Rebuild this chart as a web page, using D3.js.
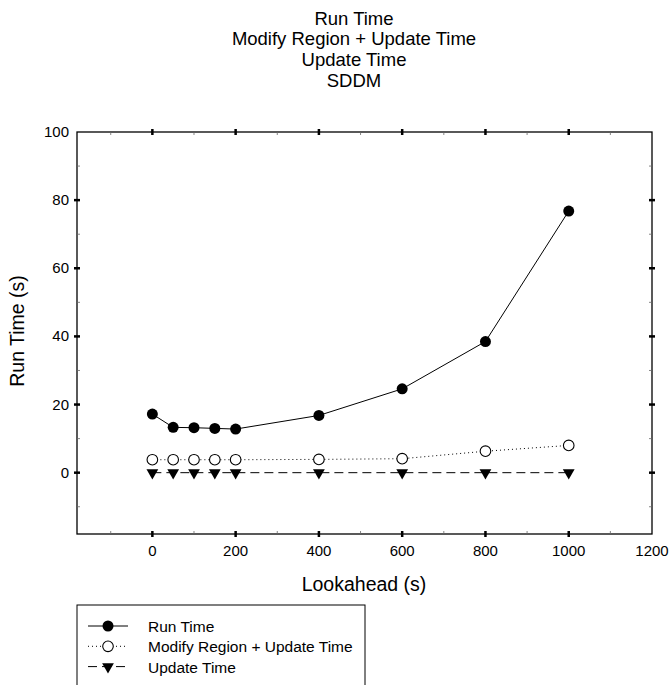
<!DOCTYPE html>
<html><head><meta charset="utf-8">
<script src="https://cdn.jsdelivr.net/npm/d3@7"></script>
<style>body{margin:0;background:#fff;}svg{display:block;font-family:"Liberation Sans",Arial,sans-serif;}</style>
</head><body>
<script>
const lookahead = [0, 50, 100, 150, 200, 400, 600, 800, 1000];
const runTime = [17.2, 13.3, 13.2, 13.0, 12.8, 16.8, 24.6, 38.5, 76.8];
const modifyRegion = [3.8, 3.8, 3.8, 3.8, 3.8, 3.9, 4.1, 6.3, 8.0];
const updateTime = [0, 0, 0, 0, 0, 0, 0, 0, 0];
const xTicks = [0, 200, 400, 600, 800, 1000, 1200];
const yTicks = [0, 20, 40, 60, 80, 100];
const titleLines = ["Run Time", "Modify Region + Update Time", "Update Time", "SDDM"];
const seriesNames = ["Run Time", "Modify Region + Update Time", "Update Time"];

(function () {
const W = 669, H = 685;
const svg = d3.select("body").append("svg").attr("width", W).attr("height", H);
const pl = 77, pr = 652, pt = 132, pb = 534;
const x = d3.scaleLinear().domain([-181, 1200]).range([pl, pr]);
const y = d3.scaleLinear().domain([-18, 100]).range([pb, pt]);

svg.append("g").selectAll("text").data(titleLines).join("text")
  .attr("x", 354).attr("y", (d, i) => 24.5 + i * 20.8)
  .attr("text-anchor", "middle").attr("font-size", 18.5).text(d => d);

svg.append("rect").attr("x", pl).attr("y", pt).attr("width", pr - pl).attr("height", pb - pt)
  .attr("fill", "none").attr("stroke", "#000").attr("stroke-width", 1.3);

const xMinor = d3.range(-100, 1200, 200);
const yMinor = d3.range(-10, 100, 20);

const tg = svg.append("g").attr("stroke", "#000");
[pb, pt].forEach(yy => {
  tg.selectAll(null).data(xTicks.filter(v => v < 1200)).join("line")
    .attr("x1", d => x(d)).attr("x2", d => x(d)).attr("y1", yy - 3).attr("y2", yy + 3).attr("stroke-width", 2.5);
  tg.selectAll(null).data(xMinor).join("line")
    .attr("x1", d => x(d)).attr("x2", d => x(d)).attr("y1", yy === pb ? yy - 3 : yy).attr("y2", yy === pb ? yy : yy + 3)
    .attr("stroke-width", 0.8).attr("stroke", "#666");
});
[pl, pr].forEach(xx => {
  tg.selectAll(null).data(yTicks.filter(v => v < 100)).join("line")
    .attr("y1", d => y(d)).attr("y2", d => y(d)).attr("x1", xx - 3).attr("x2", xx + 3).attr("stroke-width", 2.5);
  tg.selectAll(null).data(yMinor).join("line")
    .attr("y1", d => y(d)).attr("y2", d => y(d)).attr("x1", xx === pl ? xx : xx - 3).attr("x2", xx === pl ? xx + 3 : xx)
    .attr("stroke-width", 0.8).attr("stroke", "#666");
});

svg.append("g").selectAll("text").data(xTicks).join("text")
  .attr("x", d => x(d)).attr("y", 556).attr("text-anchor", "middle").attr("font-size", 15).text(d => d);
svg.append("g").selectAll("text").data(yTicks).join("text")
  .attr("x", 69).attr("y", d => y(d) + 5).attr("text-anchor", "end").attr("font-size", 15).text(d => d);

svg.append("text").attr("x", 364).attr("y", 591).attr("text-anchor", "middle").attr("font-size", 19.5).text("Lookahead (s)");
svg.append("text").attr("transform", "translate(24,331) rotate(-90)").attr("text-anchor", "middle").attr("font-size", 19.5).text("Run Time (s)");

const line = d3.line().x(d => x(d[0])).y(d => y(d[1]));
const zip = arr => lookahead.map((v, i) => [v, arr[i]]);

const styles = [
  {data: runTime, dash: null, marker: "fill"},
  {data: modifyRegion, dash: "1,3", marker: "open"},
  {data: updateTime, dash: "9,5", marker: "tri"}
];
const tri = d3.symbol().type(d3.symbolTriangle).size(60);
function drawMarker(g, type, cx, cy) {
  if (type === "fill") g.append("circle").attr("cx", cx).attr("cy", cy).attr("r", 5.5).attr("fill", "#000");
  else if (type === "open") g.append("circle").attr("cx", cx).attr("cy", cy).attr("r", 5.3).attr("fill", "#fff").attr("stroke", "#000").attr("stroke-width", 1.1);
  else g.append("path").attr("d", tri()).attr("transform", `translate(${cx},${cy}) rotate(180)`).attr("fill", "#000");
}
styles.slice().reverse().forEach(s => {
  const g = svg.append("g");
  g.append("path").datum(zip(s.data)).attr("d", line).attr("fill", "none").attr("stroke", "#000")
    .attr("stroke-width", 1).attr("stroke-dasharray", s.dash);
  zip(s.data).forEach(p => drawMarker(g, s.marker, x(p[0]), y(p[1])));
});

svg.append("rect").attr("x", 77).attr("y", 605).attr("width", 288).attr("height", 100)
  .attr("fill", "none").attr("stroke", "#000").attr("stroke-width", 1);
seriesNames.forEach((name, i) => {
  const ly = 626 + i * 20.3;
  const g = svg.append("g");
  g.append("line").attr("x1", 88).attr("x2", 128).attr("y1", ly).attr("y2", ly).attr("stroke", "#000")
    .attr("stroke-width", 1).attr("stroke-dasharray", styles[i].dash);
  drawMarker(g, styles[i].marker, 108, ly);
  g.append("text").attr("x", 148).attr("y", ly + 6).attr("font-size", 15.5).text(name);
});
})();
</script>
</body></html>
